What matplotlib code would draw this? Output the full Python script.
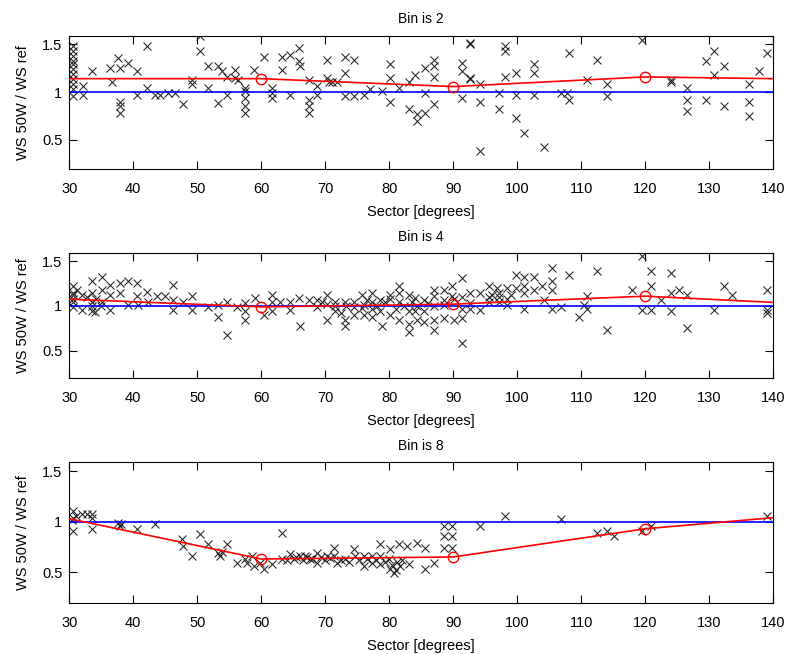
import matplotlib
matplotlib.use("Agg")
import matplotlib.pyplot as plt

plt.rcParams['font.family'] = ['Liberation Sans', 'DejaVu Sans']
plt.rcParams['font.size'] = 10

# ---------------- data ----------------
fit_x = [30, 60, 90, 120, 140]
fit_bin2 = [1.14, 1.14, 1.057, 1.158, 1.14]
fit_bin4 = [1.076, 0.99, 1.02, 1.11, 1.04]
fit_bin8 = [1.03, 0.63, 0.65, 0.93, 1.04]
circle_x = [60, 90, 120]

bin2_x = [30.6, 30.6, 30.6, 30.6, 30.6, 30.6, 30.6, 30.6, 30.6, 30.6, 30.6,
          32.2, 32.2, 33.5, 36.37, 37.67, 37.93, 36.63, 39.24, 40.54, 42.11,
          40.54, 37.93, 37.93, 37.93, 42.11, 43.41, 44.19, 45.50, 46.54, 47.85,
          49.15, 49.15, 50.45, 50.45, 51.76, 51.76, 53.32, 53.32, 53.84, 54.63,
          54.63, 55.93, 55.93, 56.45, 57.49, 57.49, 57.49, 57.49, 57.49, 58.80,
          60.36, 61.67, 61.67, 61.67, 63.23, 63.23, 64.54, 64.54, 65.84, 65.84,
          66.10, 67.41, 67.41, 67.41, 67.41, 68.71, 68.71, 70.27, 70.27, 70.54,
          71.06, 71.84, 73.15, 73.15, 73.15, 74.45, 74.45, 76.02, 77.06, 78.89,
          80.19, 80.19, 80.19, 81.50, 83.06, 84.10, 83.06, 84.37, 84.37,
          85.66, 86.97, 86.97, 86.97, 85.66, 86.97, 85.66, 92.70, 92.70, 91.40,
          91.40, 92.70, 92.70, 94.27, 91.40, 94.27, 94.27, 97.14, 97.14, 98.18,
          98.18, 98.18, 99.75, 99.75, 99.75, 101.05, 102.62, 102.62, 102.62,
          104.18, 108.09, 106.79, 107.83, 108.09, 110.96, 112.53, 114.09,
          114.09, 119.57, 124.00, 124.00, 126.61, 126.61, 126.61, 129.48,
          129.48, 130.79, 130.79, 132.35, 132.35, 136.26, 136.26, 136.26,
          137.83, 139.13]
bin2_y = [1.48, 1.43, 1.38, 1.32, 1.29, 1.24, 1.19, 1.14, 1.08, 1.03, 0.96,
          1.06, 0.97, 1.22, 1.25, 1.36, 1.25, 1.10, 1.30, 1.22, 1.48,
          0.97, 0.90, 0.85, 0.78, 1.04, 0.97, 0.97, 0.99, 0.99, 0.87,
          1.13, 1.08, 1.59, 1.43, 1.27, 1.04, 1.27, 0.89, 1.22, 1.16,
          0.97, 1.23, 1.15, 1.13, 1.04, 1.01, 0.94, 0.85, 0.78, 1.23,
          1.37, 1.04, 0.99, 0.94, 1.37, 1.23, 1.39, 0.97, 1.46, 1.32,
          1.27, 1.13, 0.92, 0.85, 0.78, 1.06, 0.97, 1.34, 1.15, 1.11,
          1.11, 1.11, 1.37, 1.20, 0.96, 1.34, 0.96, 0.97, 1.03, 1.01,
          1.29, 1.15, 0.90, 1.04, 1.10, 1.18, 0.82, 0.77, 0.70,
          1.25, 1.34, 1.27, 1.16, 0.99, 0.87, 0.78, 1.51, 1.50, 1.30,
          1.22, 1.15, 1.14, 1.08, 0.94, 0.90, 0.38, 0.99, 0.82, 1.48,
          1.43, 1.16, 1.20, 0.97, 0.73, 0.57, 1.29, 1.20, 0.97,
          0.42, 1.41, 0.99, 0.99, 0.92, 1.13, 1.34, 1.08,
          0.96, 1.55, 1.13, 1.10, 1.04, 0.92, 0.80, 1.32,
          0.92, 1.43, 1.18, 1.27, 0.85, 1.08, 0.90, 0.75,
          1.22, 1.41]

bin4_x = [30.63, 30.63, 30.63, 30.63, 31.94, 31.94, 33.50, 33.50, 33.50, 33.50,
          35.07, 35.07, 35.07, 36.37, 36.37, 36.37, 37.93, 37.93, 39.24, 39.24,
          40.54, 40.54, 40.80, 42.11, 42.37, 43.67, 44.98, 46.28, 46.28, 46.28,
          47.85, 49.15, 49.15, 51.76, 53.32, 53.32, 54.63, 54.63, 56.19, 57.49,
          57.49, 57.49, 59.06, 60.36, 61.67, 61.67, 61.67, 62.97, 64.54, 64.54,
          65.84, 66.10, 67.41, 68.71, 68.71, 70.27, 70.27, 71.58, 71.58, 73.15,
          73.15, 73.15, 74.45, 74.45, 75.76, 76.02, 76.02, 77.32, 77.32, 77.32,
          78.63, 78.63, 78.89, 80.19, 80.19, 81.50, 81.50, 81.50, 83.06, 83.06,
          83.06, 83.06, 84.10, 84.10, 84.37,
          85.40, 85.40, 86.97, 86.97, 86.97, 86.97, 88.53, 88.53, 88.53, 89.84,
          89.84, 90.10, 91.40, 91.40, 91.40, 91.40, 92.70, 92.70, 94.27, 94.27,
          95.57, 95.57, 96.88, 97.14, 97.14, 98.44, 98.44, 99.75, 99.75, 101.05,
          101.05, 101.05, 101.05, 102.62, 102.62, 103.92, 104.18, 105.49,
          105.49, 105.49, 105.49, 106.79, 108.09, 109.66, 110.44, 110.96,
          110.96, 112.53, 114.09, 118.00, 119.57, 120.87, 120.87, 119.57,
          120.87, 122.44, 124.00, 124.00, 124.00, 125.31, 126.61, 126.61,
          130.79, 132.35, 133.66, 139.13, 139.13, 139.13,
          30.6, 30.6, 31.2, 32.7, 33.5, 34.2, 35.0, 34.0,
          69.5, 70.3, 71.6, 72.4, 73.2, 74.5, 75.8, 76.6, 77.3, 78.1, 79.4,
          80.2, 81.0, 81.5, 82.3, 83.6, 84.4, 85.4, 86.0, 87.0, 88.5, 90.1,
          91.4, 92.7, 95.6, 96.1, 97.1, 98.4, 99.0]
bin4_y = [1.22, 1.14, 1.05, 0.99, 1.12, 0.95, 1.28, 1.14, 1.05, 0.94,
          1.33, 1.18, 1.05, 1.24, 1.12, 0.95, 1.26, 1.14, 1.28, 1.01,
          1.26, 1.11, 1.01, 1.16, 1.05, 1.11, 1.11, 1.24, 1.07, 0.95,
          1.05, 1.11, 0.95, 0.99, 1.01, 0.88, 1.05, 0.67, 0.99, 1.03,
          0.94, 0.84, 1.09, 0.90, 1.12, 1.05, 0.94, 1.05, 1.05, 0.95,
          1.09, 0.77, 1.07, 1.07, 0.99, 1.12, 0.84, 1.05, 0.94, 1.05,
          0.84, 0.77, 0.99, 0.90, 1.12, 1.01, 0.90, 1.14, 0.97, 0.88,
          1.07, 0.94, 0.78, 1.12, 0.90, 1.22, 1.14, 0.84, 1.12, 0.94,
          0.80, 0.71, 1.09, 0.94, 0.84,
          0.94, 0.82, 1.18, 1.11, 0.84, 0.73, 1.18, 1.01, 0.86, 1.22,
          1.11, 0.84, 1.31, 0.97, 0.86, 0.58, 1.14, 0.97, 1.14, 0.95,
          1.22, 1.05, 1.20, 1.14, 1.05, 1.20, 1.01, 1.35, 1.20, 1.33,
          1.22, 1.14, 0.97, 1.33, 1.18, 1.22, 1.07, 1.43,
          1.28, 1.18, 0.97, 0.99, 1.35, 0.88, 1.01, 1.11,
          0.97, 1.39, 0.73, 1.18, 1.56, 1.39, 1.22, 0.95,
          0.95, 1.07, 1.37, 1.14, 0.94, 1.18, 1.12, 0.75,
          0.95, 1.22, 1.12, 1.18, 0.95, 0.92,
          1.12, 1.08, 1.18, 1.10, 1.00, 1.08, 1.00, 0.93,
          1.05, 1.02, 1.00, 0.92, 1.00, 1.05, 0.98, 1.07, 1.05, 1.00, 1.05,
          1.08, 0.97, 1.05, 1.00, 1.05, 1.00, 1.07, 1.03, 1.00, 1.07, 1.08,
          1.10, 1.03, 1.10, 1.12, 1.10, 1.08, 1.12]

bin8_x = [30.63, 30.63, 30.63, 31.94, 32.72, 33.50, 33.50, 33.50, 37.67, 37.93,
          40.54, 43.41, 47.58, 47.85, 49.15, 50.45, 51.76, 53.32, 53.58, 54.63,
          56.19, 57.49, 57.76, 58.54, 58.80, 59.84, 60.36, 61.67, 63.23, 63.23,
          64.54, 65.06, 66.10, 66.88, 67.67, 68.71, 68.71, 70.27, 71.32, 71.32,
          71.84, 73.15, 74.45, 74.71, 76.02, 76.02, 77.32, 77.32, 78.63, 78.63,
          78.63, 80.19, 80.19, 80.71, 81.50, 81.76, 82.80, 83.06, 84.37,
          85.66, 86.97, 85.66, 88.53, 89.84, 88.53, 89.84, 88.53, 89.84,
          94.27, 98.18, 106.79, 112.53, 114.09, 115.13, 119.57, 120.87, 139.13,
          64.0, 65.5, 66.5, 67.2, 68.0, 69.3, 70.0, 70.8, 72.5, 73.8, 75.3,
          76.5, 78.0, 79.3, 80.5, 81.0, 81.3, 80.0, 82.0, 30.5, 31.0, 38.1,
          53.8]
bin8_y = [1.11, 1.04, 0.91, 1.08, 1.08, 1.08, 1.04, 0.93, 0.99, 0.96,
          0.93, 0.98, 0.83, 0.76, 0.66, 0.88, 0.78, 0.69, 0.66, 0.78,
          0.59, 0.63, 0.59, 0.66, 0.56, 0.59, 0.53, 0.58, 0.89, 0.63,
          0.68, 0.63, 0.66, 0.66, 0.63, 0.69, 0.59, 0.66, 0.74, 0.66,
          0.59, 0.63, 0.73, 0.66, 0.66, 0.56, 0.66, 0.59, 0.78, 0.66,
          0.58, 0.73, 0.53, 0.49, 0.78, 0.56, 0.76, 0.58, 0.79,
          0.74, 0.59, 0.53, 0.96, 0.96, 0.86, 0.86, 0.74, 0.74,
          0.96, 1.06, 1.03, 0.89, 0.91, 0.86, 0.91, 0.96, 1.06,
          0.62, 0.65, 0.62, 0.65, 0.63, 0.65, 0.62, 0.64, 0.62, 0.60, 0.62,
          0.63, 0.62, 0.60, 0.57, 0.52, 0.60, 0.63, 0.62, 1.02, 1.06, 0.98,
          0.70]

titles = ["Bin is 2", "Bin is 4", "Bin is 8"]
xticks = [30, 40, 50, 60, 70, 80, 90, 100, 110, 120, 130, 140]
yticks = [0.5, 1, 1.5]
ytick_labels = ["0.5", "1", "1.5"]

# ---------------- figure ----------------
fig = plt.figure(figsize=(7.9, 6.54), dpi=100)
positions = [
    [0.0877, 0.7411, 0.8908, 0.2043],
    [0.0877, 0.4216, 0.8908, 0.1911],
    [0.0877, 0.0775, 0.8908, 0.2156],
]
scatter_sets = [(bin2_x, bin2_y), (bin4_x, bin4_y), (bin8_x, bin8_y)]
fits = [fit_bin2, fit_bin4, fit_bin8]

for pos, (sx, sy), fit, title in zip(positions, scatter_sets, fits, titles):
    ax = fig.add_axes(pos)
    ax.plot(sx, sy, linestyle='none', marker='x', color='#222222',
            markersize=5.8, markeredgewidth=0.75, zorder=2)
    ax.plot([30, 140], [1, 1], color='#0000ff', linewidth=1.2, zorder=3)
    ax.plot(fit_x, fit, color='#ff0000', linewidth=1.2, zorder=4)
    cy = [fit[fit_x.index(c)] for c in circle_x]
    ax.plot(circle_x, cy, linestyle='none', marker='o', markersize=7.5,
            markerfacecolor='none', markeredgecolor='#ff0000',
            markeredgewidth=1.0, zorder=5)
    ax.set_xlim(30, 140)
    ax.set_ylim(0.19, 1.59)
    ax.set_xticks(xticks)
    ax.set_yticks(yticks)
    ax.set_yticklabels(ytick_labels)
    ax.tick_params(direction='in', top=True, right=True, length=5.5,
                   width=0.8, labelsize=10.5)
    ax.tick_params(axis='x', pad=9)
    ax.tick_params(axis='y', pad=5)
    for sp in ax.spines.values():
        sp.set_linewidth(0.8)
    ax.set_xlabel("Sector [degrees]", fontsize=10.5, labelpad=6.5)
    ax.set_ylabel("WS 50W / WS ref", fontsize=10.5, labelpad=8.5)
    ax.set_title(title, fontsize=10, pad=9)

fig.savefig("out.png", dpi=100, facecolor='white')
